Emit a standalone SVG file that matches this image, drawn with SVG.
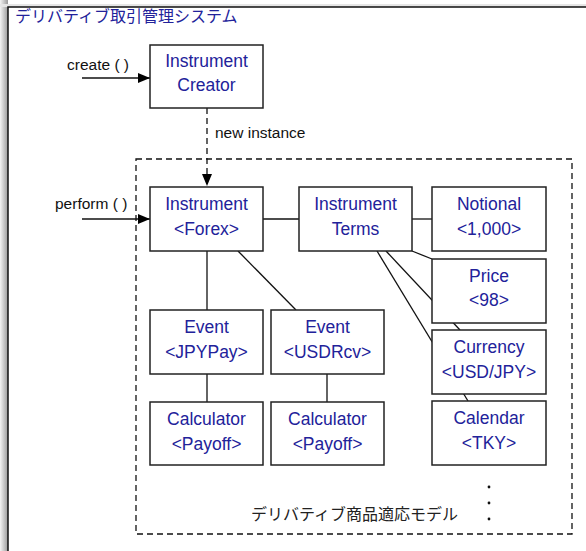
<svg xmlns="http://www.w3.org/2000/svg" width="586" height="551" viewBox="0 0 586 551">
<defs>
<linearGradient id="sh" x1="0" y1="0" x2="1" y2="0">
<stop offset="0" stop-color="#f4f4f4"/>
<stop offset="1" stop-color="#9a9a9a"/>
</linearGradient>
<marker id="arr" viewBox="0 0 12 10" refX="12" refY="5" markerWidth="12" markerHeight="10" markerUnits="userSpaceOnUse" orient="auto">
<path d="M0,0 L12,5 L0,10 Z" fill="#000"/>
</marker>
<style>
.box{fill:#fff;stroke:#222;stroke-width:1.5}
.t{font-family:"Liberation Sans","Noto Sans CJK JP",sans-serif;font-size:17.5px;fill:#22229a;text-anchor:middle}
.lbl{font-family:"Liberation Sans","Noto Sans CJK JP",sans-serif;font-size:15.5px;fill:#111}
.ln{stroke:#111;stroke-width:1.3;fill:none}
</style>
</defs>
<rect x="0" y="0" width="586" height="551" fill="#fff"/>
<rect x="0" y="0" width="8" height="551" fill="url(#sh)"/>
<rect x="0" y="4" width="586" height="3" fill="#e6e6e6"/>
<rect x="8" y="7" width="600" height="560" fill="#fff" stroke="#111" stroke-width="1.5"/>
<text x="15" y="22" style="font-family:'Noto Sans CJK JP',sans-serif;font-size:16px;fill:#22229a">デリバティブ取引管理システム</text>

<rect x="136" y="159" width="436" height="375" fill="none" stroke="#111" stroke-width="1.3" stroke-dasharray="6,4"/>
<text x="251" y="520" style="font-family:'Noto Sans CJK JP',sans-serif;font-size:16px;fill:#222">デリバティブ商品適応モデル</text>
<g fill="#111">
<circle cx="489" cy="487" r="1.4"/>
<circle cx="489" cy="503" r="1.4"/>
<circle cx="489" cy="519" r="1.4"/>
</g>

<g id="connectors">
<line class="ln" x1="82" y1="78" x2="150" y2="78" marker-end="url(#arr)"/>
<text class="lbl" x="67" y="70">create ( )</text>
<line class="ln" x1="82" y1="219" x2="150" y2="219" marker-end="url(#arr)"/>
<text class="lbl" x="55" y="209">perform ( )</text>
<line class="ln" x1="207" y1="108" x2="207" y2="186" stroke-dasharray="6,4" marker-end="url(#arr)"/>
<text class="lbl" x="215" y="138">new instance</text>
<line class="ln" x1="263" y1="219" x2="299" y2="219"/>
<line class="ln" x1="412" y1="219" x2="432" y2="219"/>
<line class="ln" x1="207" y1="251" x2="207" y2="310"/>
<line class="ln" x1="238" y1="251" x2="296" y2="310"/>
<line class="ln" x1="207" y1="374" x2="207" y2="402"/>
<line class="ln" x1="327" y1="374" x2="327" y2="402"/>
<line class="ln" x1="412" y1="251" x2="432" y2="259"/>
<line class="ln" x1="386" y1="251" x2="460" y2="330"/>
<line class="ln" x1="377" y1="251" x2="468" y2="401"/>
</g>

<g id="creator"><rect class="box" x="150" y="45" width="113" height="63"/><text class="t" x="206.5" y="67">Instrument</text><text class="t" x="206.5" y="91">Creator</text></g>
<g id="forex"><rect class="box" x="150" y="187" width="113" height="64"/><text class="t" x="206.5" y="210">Instrument</text><text class="t" x="206.5" y="235">&lt;Forex&gt;</text></g>
<g id="terms"><rect class="box" x="299" y="187" width="113" height="64"/><text class="t" x="355.5" y="210">Instrument</text><text class="t" x="355.5" y="235">Terms</text></g>
<g id="notional"><rect class="box" x="432" y="187" width="114" height="64"/><text class="t" x="489" y="210">Notional</text><text class="t" x="489" y="235">&lt;1,000&gt;</text></g>
<g id="price"><rect class="box" x="432" y="259" width="114" height="64"/><text class="t" x="489" y="282">Price</text><text class="t" x="489" y="306">&lt;98&gt;</text></g>
<g id="currency"><rect class="box" x="432" y="330" width="114" height="64"/><text class="t" x="489" y="353">Currency</text><text class="t" x="489" y="378">&lt;USD/JPY&gt;</text></g>
<g id="calendar"><rect class="box" x="432" y="401" width="114" height="64"/><text class="t" x="489" y="424">Calendar</text><text class="t" x="489" y="449">&lt;TKY&gt;</text></g>
<g id="event-jpy"><rect class="box" x="150" y="310" width="113" height="64"/><text class="t" x="206.5" y="333">Event</text><text class="t" x="206.5" y="358">&lt;JPYPay&gt;</text></g>
<g id="event-usd"><rect class="box" x="271" y="310" width="113" height="64"/><text class="t" x="327.5" y="333">Event</text><text class="t" x="327.5" y="358">&lt;USDRcv&gt;</text></g>
<g id="calc1"><rect class="box" x="150" y="402" width="113" height="63"/><text class="t" x="206.5" y="425">Calculator</text><text class="t" x="206.5" y="450">&lt;Payoff&gt;</text></g>
<g id="calc2"><rect class="box" x="271" y="402" width="113" height="63"/><text class="t" x="327.5" y="425">Calculator</text><text class="t" x="327.5" y="450">&lt;Payoff&gt;</text></g>
</svg>
